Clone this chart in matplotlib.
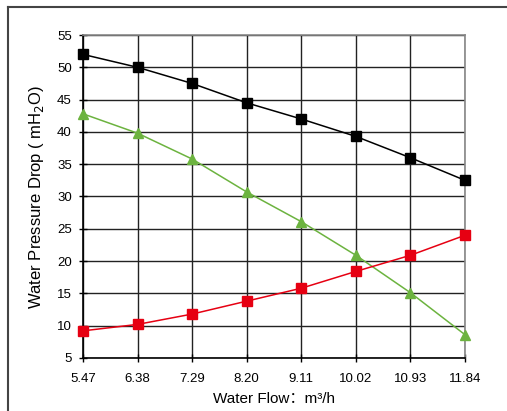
import matplotlib
matplotlib.use('Agg')
import matplotlib.pyplot as plt
from matplotlib.lines import Line2D

# Dados
flow = [5.47, 6.38, 7.29, 8.20, 9.11, 10.02, 10.93, 11.84]
flow_labels = ['5.47', '6.38', '7.29', '8.20', '9.11', '10.02', '10.93', '11.84']
black_curve = [52.0, 50.0, 47.5, 44.5, 42.0, 39.3, 36.0, 32.5]
green_curve = [42.8, 39.8, 35.8, 30.7, 26.1, 20.9, 15.1, 8.6]
red_curve = [9.2, 10.2, 11.8, 13.8, 15.8, 18.4, 20.9, 24.0]

plt.rcParams['font.family'] = ['Liberation Sans', 'Noto Sans CJK SC']

fig = plt.figure(figsize=(5.07, 4.11), dpi=100)
ax = fig.add_axes([0.1637, 0.129, 0.7535, 0.7858])

ax.plot(flow, black_curve, color='black', linewidth=1.1, marker='s', markersize=7, zorder=3, clip_on=False)
ax.plot(flow, green_curve, color='#6cb33f', linewidth=1.1, marker='^', markersize=7, zorder=3, clip_on=False)
ax.plot(flow, red_curve, color='#e60012', linewidth=1.1, marker='s', markersize=7, zorder=3, clip_on=False)

ax.set_xlim(flow[0], flow[-1])
ax.set_ylim(5, 55)
ax.set_xticks(flow)
ax.set_xticklabels(flow_labels)
ax.set_yticks(range(5, 56, 5))

ax.grid(True, color='#222222', linewidth=1.0)
ax.set_axisbelow(True)
for side in ['left', 'bottom']:
    ax.spines[side].set_color('black')
    ax.spines[side].set_linewidth(1.2)
for side in ['right', 'top']:
    ax.spines[side].set_color('#888888')
    ax.spines[side].set_linewidth(1.2)

ax.tick_params(direction='inout', length=6, width=1, labelsize=9.5, colors='black')
ax.tick_params(axis='x', pad=8)
ax.tick_params(axis='y', pad=5)

ax.set_ylabel('Water Pressure Drop ( mH$_2$O)', fontsize=12, labelpad=8)
ax.set_xlabel('Water Flow：m³/h', fontsize=11, labelpad=5)

# Moldura parcial (topo e esquerda)
fig.add_artist(Line2D([8 / 507, 8 / 507], [0, 1 - 7 / 411], transform=fig.transFigure, color='#444444', linewidth=1.5))
fig.add_artist(Line2D([8 / 507, 1], [1 - 7 / 411, 1 - 7 / 411], transform=fig.transFigure, color='#444444', linewidth=1.5))

plt.savefig('out.png', dpi=100)
